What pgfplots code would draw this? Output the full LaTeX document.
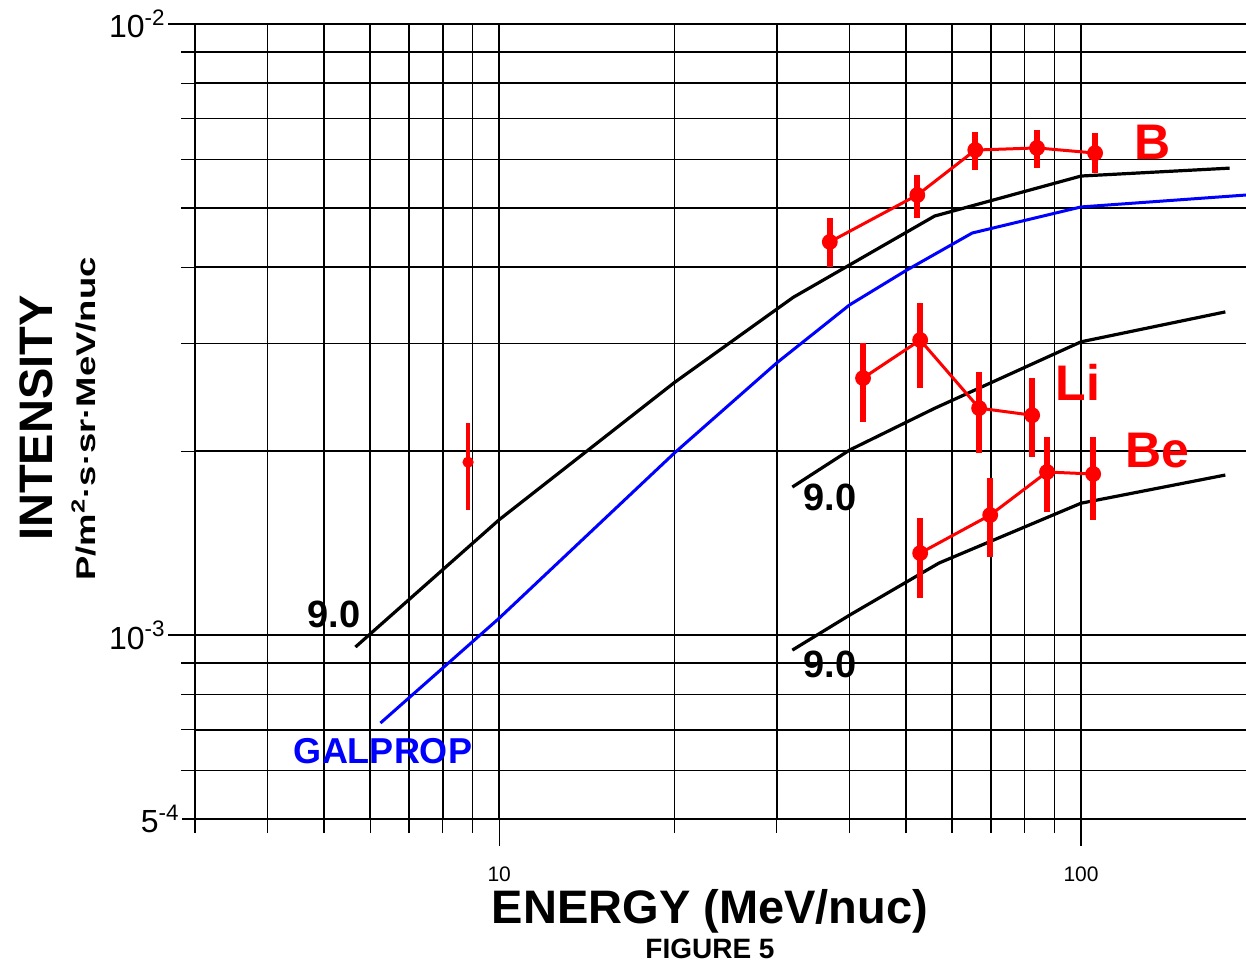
\documentclass[border=0pt]{standalone}
\usepackage{fontspec}
\setmainfont{Liberation Sans}
\usepackage{pgfplots}
\pgfplotsset{compat=1.18}
\usepackage{pgfplotstable}

\pgfplotstableread{
x y
5.66 9.56e-4
10 1.545e-3
20 2.59e-3
32 3.57e-3
56 4.85e-3
100 5.64e-3
180 5.81e-3
}\curveB

\pgfplotstableread{
x y
6.25 7.18e-4
10 1.066e-3
20 1.986e-3
30 2.79e-3
40 3.47e-3
50 3.95e-3
65 4.55e-3
100 5.02e-3
192 5.25e-3
}\galprop

\pgfplotstableread{
x y
31.9 1.747e-3
40 2.008e-3
56 2.35e-3
100 3.02e-3
177 3.38e-3
}\curveLi

\pgfplotstableread{
x y
31.9 9.45e-4
40 1.078e-3
57 1.312e-3
100 1.644e-3
177 1.828e-3
}\curveBe

\pgfplotstableread{
x y ep em
37.0 4.40e-3 0.41e-3 0.40e-3
52.3 5.25e-3 0.41e-3 0.44e-3
65.8 6.22e-3 0.44e-3 0.45e-3
84.0 6.27e-3 0.44e-3 0.46e-3
105.7 6.15e-3 0.48e-3 0.45e-3
}\dataB

\pgfplotstableread{
x y ep em
42.2 2.634e-3 0.371e-3 0.402e-3
52.9 3.04e-3 0.45e-3 0.503e-3
66.8 2.352e-3 0.342e-3 0.367e-3
82.4 2.29e-3 0.344e-3 0.335e-3
}\dataLi

\pgfplotstableread{
x y ep em
52.9 1.362e-3 0.192e-3 0.212e-3
69.8 1.572e-3 0.235e-3 0.230e-3
87.4 1.849e-3 0.260e-3 0.259e-3
104.9 1.835e-3 0.274e-3 0.292e-3
}\dataBe

\pgfplotstableread{
x y ep em
8.84 1.919e-3 0.304e-3 0.317e-3
}\dataLone

\begin{document}
\begin{tikzpicture}
\begin{axis}[
  name=ax,
  at={(97.5pt,-409.5pt)}, anchor=south west,
  scale only axis, width=525.5pt, height=397.5pt,
  xmode=log, ymode=log,
  xmin=3, xmax=192.1, ymin=5e-4, ymax=1e-2,
  axis lines*=left,
  axis line style={black, line width=1pt},
  clip=false,
  xtick={10,100}, xticklabels={10,100},
  minor xtick={3,4,5,6,7,8,9,20,30,40,50,60,70,80,90},
  ytick={1e-3,1e-2}, yticklabels={10\textsuperscript{-3},10\textsuperscript{-2}},
  minor ytick={6e-4,7e-4,8e-4,9e-4,2e-3,3e-3,4e-3,5e-3,6e-3,7e-3,8e-3,9e-3},
  extra y ticks={5e-4}, extra y tick labels={5\textsuperscript{-4}},
  extra y tick style={major tick length=6.5pt},
  grid=both,
  major grid style={black, line width=0.75pt},
  minor grid style={black, line width=0.75pt},
  tick align=outside,
  major tick length=13.5pt, minor tick length=7pt,
  tick style={black, line width=0.6pt},
  xticklabel style={font=\fontsize{10.5}{12}\selectfont, yshift=-7pt},
  yticklabel style={font=\fontsize{16}{18}\selectfont, inner sep=1pt},
]
\addplot[black, line width=1.6pt] table {\curveB};
\addplot[blue, line width=1.5pt] table {\galprop};
\addplot[black, line width=1.6pt] table {\curveLi};
\addplot[black, line width=1.6pt] table {\curveBe};
\addplot[red, line width=1.5pt, mark=*, mark size=3.2pt, mark options={fill=red},
  error bars/.cd, y dir=both, y explicit, error mark=none,
  error bar style={line width=3pt}]
  table[x=x, y=y, y error plus=ep, y error minus=em] {\dataB};
\addplot[red, line width=1.5pt, mark=*, mark size=3.2pt, mark options={fill=red},
  error bars/.cd, y dir=both, y explicit, error mark=none,
  error bar style={line width=3pt}]
  table[x=x, y=y, y error plus=ep, y error minus=em] {\dataLi};
\addplot[red, line width=1.5pt, mark=*, mark size=3.2pt, mark options={fill=red},
  error bars/.cd, y dir=both, y explicit, error mark=none,
  error bar style={line width=3pt}]
  table[x=x, y=y, y error plus=ep, y error minus=em] {\dataBe};
\addplot[red, only marks, mark=*, mark size=2.6pt, mark options={fill=red},
  error bars/.cd, y dir=both, y explicit, error mark=none,
  error bar style={line width=2pt}]
  table[x=x, y=y, y error plus=ep, y error minus=em] {\dataLone};
\end{axis}
\begin{scope}[x=0.5pt, y=-0.5pt]
  \node[anchor=base, text=red, inner sep=0, font=\bfseries\fontsize{25}{30}\selectfont] at (1153,159) {B};
  \node[anchor=base, text=red, inner sep=0, font=\bfseries\fontsize{25}{30}\selectfont] at (1078,400) {Li};
  \node[anchor=base, text=red, inner sep=0, font=\bfseries\fontsize{25}{30}\selectfont] at (1157,467) {Be};
  \node[anchor=base, inner sep=0, font=\bfseries\fontsize{19}{22}\selectfont] at (334,627) {9.0};
  \node[anchor=base, inner sep=0, font=\bfseries\fontsize{19}{22}\selectfont] at (830,510) {9.0};
  \node[anchor=base, inner sep=0, font=\bfseries\fontsize{19}{22}\selectfont] at (830,677) {9.0};
  \node[anchor=base, text=blue, inner sep=0, font=\bfseries\fontsize{18}{21}\selectfont] at (383,763) {GALPROP};
  \node[anchor=base, inner sep=0, font=\bfseries\fontsize{23.5}{28}\selectfont] at (710,923) {ENERGY (MeV/nuc)};
  \node[anchor=base, inner sep=0, font=\bfseries\fontsize{14}{16}\selectfont] at (710,958) {FIGURE 5};
  \node[anchor=base, rotate=90, inner sep=0, font=\bfseries\fontsize{23.5}{28}\selectfont] at (52,418) {INTENSITY};
  \node[anchor=base, rotate=90, inner sep=0, font=\bfseries\fontsize{13.5}{16}\selectfont] at (95,419)
    {\scalebox{1.35}[1]{P/m\textsuperscript{2}·s·sr·MeV/nuc}};
\end{scope}
\pgfresetboundingbox
\path[use as bounding box] (0,0) rectangle (623pt,-483pt);
\end{tikzpicture}
\end{document}
